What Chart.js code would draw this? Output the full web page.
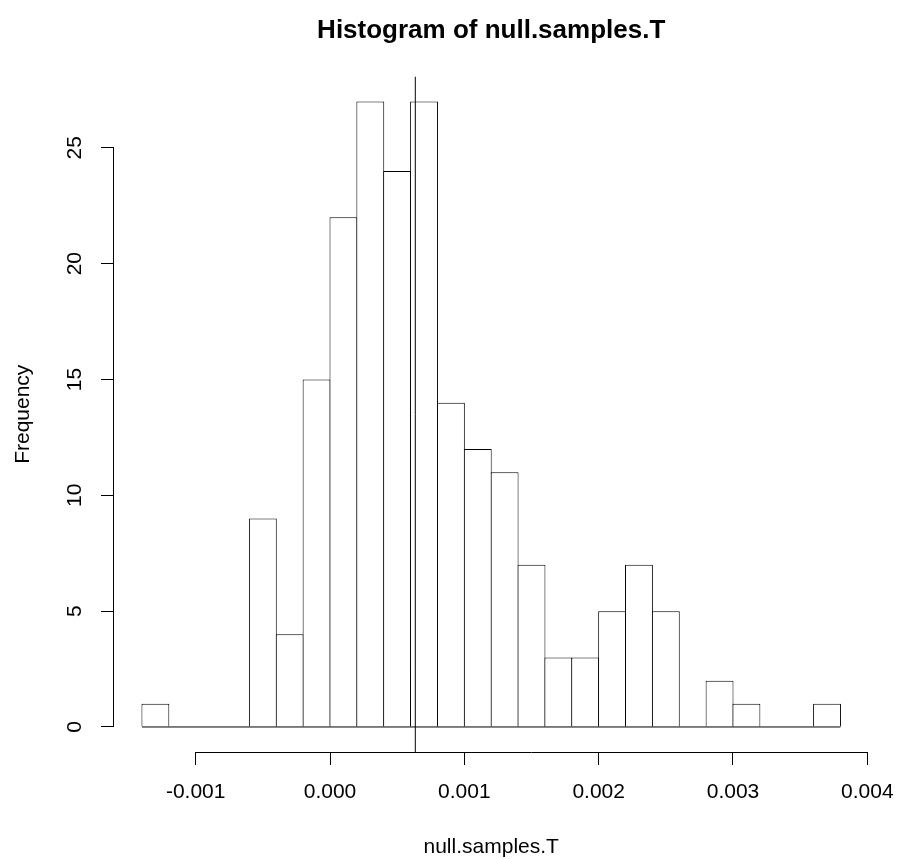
<!DOCTYPE html>
<html lang="en">
<head>
    <meta charset="UTF-8">
    <title>Histogram of null.samples.T</title>
    <script src="https://cdn.jsdelivr.net/npm/chart.js@4.4.1/dist/chart.umd.min.js"></script>
    <style>
        html, body { margin: 0; padding: 0; background: #fff; }
    </style>
</head>
<body>
    <canvas id="chart" width="899" height="859"></canvas>

    <script>
        // bin edges of the histogram and the count in each bin
        var breaks = [-0.0014, -0.0012, -0.0010, -0.0008, -0.0006, -0.0004, -0.0002, 0.0000,
                      0.0002, 0.0004, 0.0006, 0.0008, 0.0010, 0.0012, 0.0014, 0.0016, 0.0018,
                      0.0020, 0.0022, 0.0024, 0.0026, 0.0028, 0.0030, 0.0032, 0.0034, 0.0036, 0.0038]
        var counts = [1, 0, 0, 0, 9, 4, 15, 22, 27, 24, 27, 14, 12, 11, 7, 3, 3, 5, 7, 5, 0, 2, 1, 0, 0, 1]
        // observed value, drawn as the vertical line
        var observedT = 0.000635
        var xTicks = [-0.001, 0, 0.001, 0.002, 0.003, 0.004]
        var yTicks = [0, 5, 10, 15, 20, 25]
    </script>
    <script>
        Chart.defaults.font.family = "'Liberation Sans', Arial, Helvetica, sans-serif"
        Chart.defaults.color = '#000'

        var barData = []
        for (var i = 0; i < counts.length; i++) {
            barData.push({x: (breaks[i] + breaks[i + 1]) / 2, y: counts[i]})
        }
        var last = breaks.length - 1
        // R pads the axis range by 4%
        var xPad = (breaks[last] - breaks[0]) * 0.04
        var yMax = Math.max.apply(null, counts)
        var yPad = yMax * 0.04

        // R style axis lines: only from first to last tick
        var rAxes = {
            id: 'rAxes',
            afterDraw: function(chart) {
                var ctx = chart.ctx
                var xs = chart.scales.x, ys = chart.scales.y
                var al = function(p) { return Math.round(p - 0.5) + 0.5 }
                ctx.save()
                ctx.strokeStyle = '#000'
                ctx.lineWidth = 1
                ctx.beginPath()
                var yb = Math.round(xs.top) + 0.5
                ctx.moveTo(al(xs.getPixelForValue(xTicks[0])), yb)
                ctx.lineTo(al(xs.getPixelForValue(xTicks[xTicks.length - 1])), yb)
                var xl = Math.round(ys.right) - 0.5
                ctx.moveTo(xl, al(ys.getPixelForValue(yTicks[0])))
                ctx.lineTo(xl, al(ys.getPixelForValue(yTicks[yTicks.length - 1])))
                ctx.stroke()
                ctx.restore()
            }
        }

        var ctx = document.getElementById('chart').getContext('2d')
        var myChart = new Chart(ctx, {
            type: 'bar',
            data: {
                datasets: [{
                    type: 'line',
                    data: [{x: observedT, y: -yPad}, {x: observedT, y: yMax + yPad}],
                    borderColor: '#000',
                    borderWidth: 1,
                    pointRadius: 0,
                    order: 0
                },
                {
                    type: 'line',
                    data: [{x: breaks[0], y: 0}, {x: breaks[last], y: 0}],
                    borderColor: '#000',
                    borderWidth: 1,
                    pointRadius: 0,
                    order: 1
                },
                {
                    type: 'bar',
                    data: barData,
                    backgroundColor: '#fff',
                    borderColor: '#000',
                    borderWidth: 1,
                    borderSkipped: 'start',
                    barPercentage: 1.0372,
                    categoryPercentage: 1,
                    inflateAmount: 0,
                    order: 2
                }]
            },
            options: {
                responsive: false,
                animation: false,
                events: [],
                layout: { padding: { right: 30.6 } },
                plugins: {
                    legend: { display: false },
                    tooltip: { enabled: false },
                    title: {
                        display: true,
                        text: 'Histogram of null.samples.T',
                        fullSize: false,
                        color: '#000',
                        font: { size: 26, weight: 'bold' },
                        padding: { top: 15.4, bottom: 29.9 }
                    }
                },
                scales: {
                    x: {
                        type: 'linear',
                        min: breaks[0] - xPad,
                        max: breaks[last] + xPad,
                        offset: false,
                        grid: { offset: false, drawOnChartArea: false, tickLength: 13, color: '#000', lineWidth: 1 },
                        border: { display: false },
                        afterBuildTicks: function(s) { s.ticks = xTicks.map(function(v) { return {value: v} }) },
                        afterFit: function(s) {
                            s.height = 107
                            s.paddingLeft = 0
                            s.paddingRight = 0
                        },
                        ticks: {
                            autoSkip: false, minRotation: 0, maxRotation: 0, padding: 15,
                            color: '#000', font: { size: 21 },
                            callback: function(v) { return v.toFixed(3) }
                        },
                        title: {
                            display: true, text: 'null.samples.T', color: '#000',
                            font: { size: 21 }, padding: { top: 0, bottom: -1 }
                        }
                    },
                    y: {
                        type: 'linear',
                        min: -yPad,
                        max: yMax + yPad,
                        grid: { drawOnChartArea: false, tickLength: 13, color: '#000', lineWidth: 1 },
                        border: { display: false },
                        afterBuildTicks: function(s) { s.ticks = yTicks.map(function(v) { return {value: v} }) },
                        afterFit: function(s) {
                            s.width = 114
                            s.paddingTop = 0
                            s.paddingBottom = 0
                        },
                        ticks: {
                            autoSkip: false, minRotation: 90, maxRotation: 90, crossAlign: 'center',
                            padding: 14, color: '#000', font: { size: 21 }
                        },
                        title: {
                            display: true, text: 'Frequency', color: '#000',
                            font: { size: 21 }, padding: { top: 11, bottom: 0 }
                        }
                    }
                }
            },
            plugins: [rAxes]
        })
    </script>
</body>
</html>
